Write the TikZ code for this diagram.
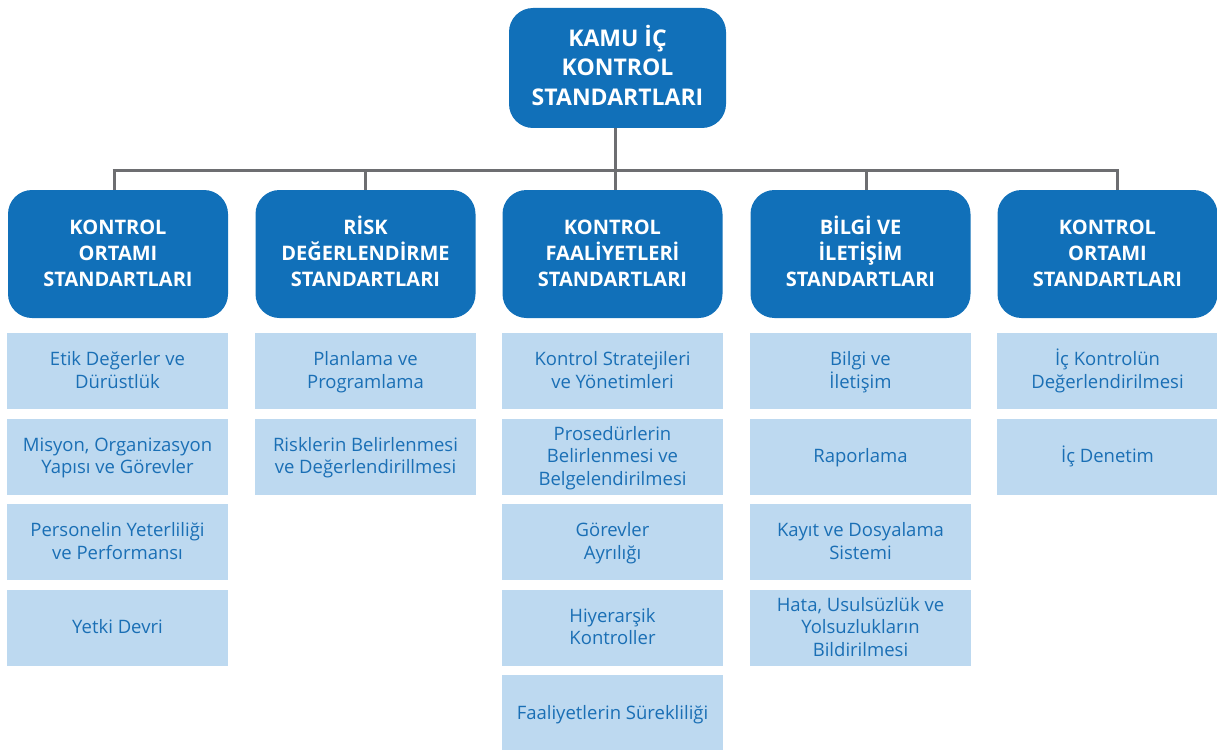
\documentclass[tikz,border=0pt]{standalone}
\usepackage{fontspec}
\setmainfont{Open Sans}
\definecolor{dblue}{HTML}{1170B9}
\definecolor{lblue}{HTML}{BDD9F0}
\definecolor{tblue}{HTML}{1A6FB5}
\definecolor{lgray}{HTML}{6D6E71}
\newcommand\ts{\rule{0pt}{1.05em}}
\newcommand\bs{\rule[-0.38em]{0pt}{0pt}}
\setlength{\lineskiplimit}{-50pt}
\begin{document}
\begin{tikzpicture}[x=1pt,y=-1pt,
  topbox/.style={fill=dblue, rounded corners=24pt, minimum width=217pt, minimum height=120pt, text=white, font=\fontsize{23}{29.5}\selectfont\bfseries, align=center, inner sep=0pt},
  hdr/.style={fill=dblue, rounded corners=24pt, minimum width=220pt, minimum height=128pt, text=white, font=\fontsize{20}{26}\selectfont\bfseries, align=center, inner sep=0pt},
  sub/.style={fill=lblue, minimum width=221pt, minimum height=76pt, text=tblue, font=\fontsize{18.5}{22.5}\selectfont, align=center, inner sep=0pt},
  conn/.style={draw=lgray, line width=3pt}]
\useasboundingbox (0,0) rectangle (1217,749);

\node[topbox] (top) at (617.5,68) {\ts KAMU İÇ\\KONTROL\\STANDARTLARI\bs};

\node[hdr] (h1) at (118,254) {\ts KONTROL\\ORTAMI\\STANDARTLARI\bs};
\node[hdr] (h2) at (365.5,254) {\ts RİSK\\DEĞERLENDİRME\\STANDARTLARI\bs};
\node[hdr] (h3) at (612.5,254) {\ts KONTROL\\FAALİYETLERİ\\STANDARTLARI\bs};
\node[hdr] (h4) at (860.5,254) {\ts BİLGİ VE\\İLETİŞİM\\STANDARTLARI\bs};
\node[hdr] (h5) at (1107.5,254) {\ts KONTROL\\ORTAMI\\STANDARTLARI\bs};

\coordinate (bus) at (615,170);
\coordinate (d1) at (114,170);
\coordinate (d2) at (365,170);
\coordinate (d3) at (615,170);
\coordinate (d4) at (866,170);
\coordinate (d5) at (1117,170);
\draw[conn] (top.south -| bus) -- (bus);
\draw[conn] ([xshift=-1.5pt]d1) -- ([xshift=1.5pt]d5);
\foreach \i in {1,...,5} {
  \draw[conn] ([yshift=-1.5pt]d\i) -- (d\i |- h\i.north);
}

% column 1
\node[sub] (a1) at (117.5,371) {\ts Etik Değerler ve\\Dürüstlük\bs};
\node[sub] (a2) at (117.5,456.5) {\ts Misyon, Organizasyon\\Yapısı ve Görevler\bs};
\node[sub] (a3) at (117.5,542) {\ts Personelin Yeterliliği\\ve Performansı\bs};
\node[sub] (a4) at (117.5,627.5) {\ts Yetki Devri\bs};
% column 2
\node[sub] (b1) at (365.5,371) {\ts Planlama ve\\Programlama\bs};
\node[sub] (b2) at (365.5,456.5) {\ts Risklerin Belirlenmesi\\ve Değerlendirillmesi\bs};
% column 3
\node[sub] (c1) at (612.5,371) {\ts Kontrol Stratejileri\\ve Yönetimleri\bs};
\node[sub] (c2) at (612.5,456.5) {\ts Prosedürlerin\\Belirlenmesi ve\\Belgelendirilmesi\bs};
\node[sub] (c3) at (612.5,542) {\ts Görevler\\Ayrılığı\bs};
\node[sub] (c4) at (612.5,627.5) {\ts Hiyerarşik\\Kontroller\bs};
\node[sub] (c5) at (612.5,713) {\ts Faaliyetlerin Sürekliliği\bs};
% column 4
\node[sub] (e1) at (860.5,371) {\ts Bilgi ve\\İletişim\bs};
\node[sub] (e2) at (860.5,456.5) {\ts Raporlama\bs};
\node[sub] (e3) at (860.5,542) {\ts Kayıt ve Dosyalama\\Sistemi\bs};
\node[sub] (e4) at (860.5,627.5) {\ts Hata, Usulsüzlük ve\\Yolsuzlukların\\Bildirilmesi\bs};
% column 5
\node[sub] (f1) at (1107.5,371) {\ts İç Kontrolün\\Değerlendirilmesi\bs};
\node[sub] (f2) at (1107.5,456.5) {\ts İç Denetim\bs};
\end{tikzpicture}
\end{document}
